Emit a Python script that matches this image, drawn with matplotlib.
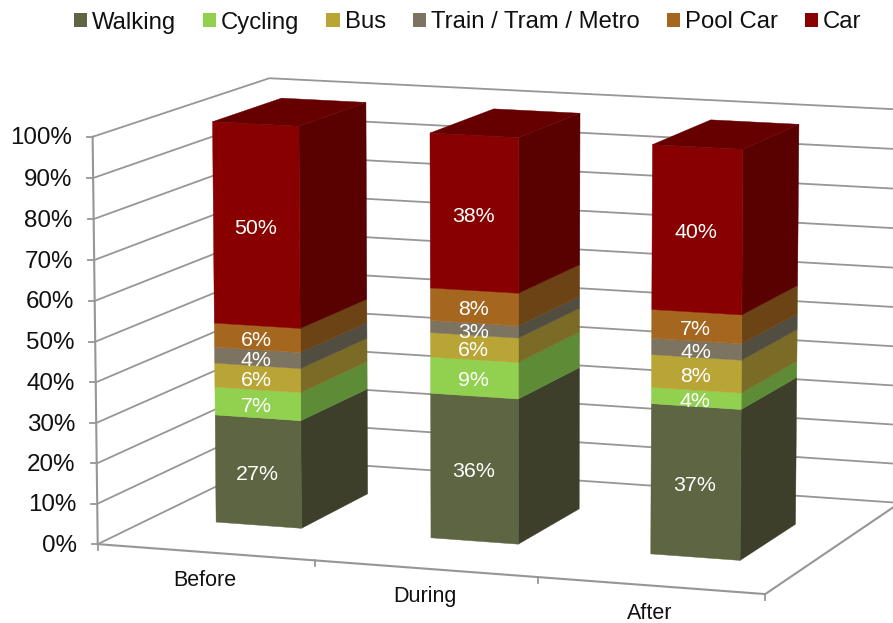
import numpy as np
import matplotlib
matplotlib.use("Agg")
import matplotlib.pyplot as plt
from matplotlib.patches import Patch

plt.rcParams["font.family"] = ["Liberation Sans", "DejaVu Sans"]

# ── DATA ──────────────────────────────────────────────────────────────────────

periods = ["Before", "During", "After"]
modes   = ["Walking", "Cycling", "Bus", "Train / Tram / Metro", "Pool Car", "Car"]

walking = [27, 36, 37]
cycling = [7, 9, 4]
bus     = [6, 6, 8]
train   = [4, 3, 4]
pool    = [6, 8, 7]
car     = [50, 38, 40]

y_ticks = [0, 10, 20, 30, 40, 50, 60, 70, 80, 90, 100]

# ── STYLE ─────────────────────────────────────────────────────────────────────

FRONT = ["#5D6543", "#92D050", "#B8A536", "#7C7360", "#A5671F", "#880000"]
SIDE  = ["#3D3F2B", "#5E8B35", "#7A6C26", "#514D40", "#6B4314", "#590000"]
TOP   = "#660000"
GRID  = "#969696"

BAR_W  = 0.4
DEPTH0 = 0.3
DEPTH1 = 0.7

# ── PROJECTION ────────────────────────────────────────────────────────────────

# box coordinates (category, depth, share of 100%) -> picture position
CALIB = [
    ((0, 0, 0), (97, 542)), ((3, 0, 0), (765, 594)), ((0, 0, 1), (92, 136.5)),
    ((0, 1, 1), (270, 77.5)), ((0, 1, 0), (272, 461)), ((3, 1, 0), (900, 504)),
    ((3, 1, 1), (900, 108)), ((1, 0, 0), (314, 559)),
    ((0.3, 0.3, 1), (212, 121)), ((0.7, 0.3, 1), (300, 126)),
    ((0.3, 0.7, 1), (283, 98)), ((0.3, 0.3, 0), (216, 521)),
    ((0.7, 0.3, 0), (301, 527)), ((1.3, 0.3, 0), (431, 537)),
    ((1.7, 0.3, 0), (519, 544)), ((1.3, 0.3, 1), (430, 135)),
    ((1.7, 0.3, 1), (518, 140)), ((1.7, 0.7, 1), (580, 112)),
    ((2.3, 0.3, 0), (651, 553)), ((2.7, 0.3, 0), (741, 560)),
    ((2.7, 0.7, 0), (796, 524)), ((2.3, 0.3, 1), (652, 144)),
    ((2.7, 0.3, 1), (744, 148)), ((2.7, 0.7, 1), (800, 123)),
    ((2.3, 0.7, 1), (712, 119)),
    # segment joins on the bar fronts, they sit a little lower than a straight fit
    ((0.3, 0.3, 0.27), (215, 416)), ((0.3, 0.3, 0.5), (214, 324)),
    ((2.3, 0.3, 0.37), (651.5, 406)), ((2.3, 0.3, 0.6), (652, 312)),
    ((1.3, 0.3, 0.36), (431, 395)), ((1.3, 0.3, 0.62), (430, 290)),
]


def fit_projection(pairs):
    rows, rhs = [], []
    for (u, v, w), (x, y) in pairs:
        rows.append([u, v, w, 1, 0, 0, 0, 0, -x*u, -x*v, -x*w])
        rows.append([0, 0, 0, 0, u, v, w, 1, -y*u, -y*v, -y*w])
        rhs += [x, y]
    sol = np.linalg.lstsq(np.array(rows, float), np.array(rhs, float), rcond=None)[0]
    return np.append(sol, 1).reshape(3, 4)


P = fit_projection(CALIB)


def project(u, v, w):
    x, y, h = P @ np.array([u, v, w, 1.0])
    return x / h, y / h


def face(*corners):
    return np.array([project(*c) for c in corners]).T

# ── PLOT ──────────────────────────────────────────────────────────────────────

fig = plt.figure(figsize=(8.93, 6.23), dpi=100)
ax  = fig.add_axes([0, 0, 1, 1])
ax.set_xlim(0, 893)
ax.set_ylim(623, 0)
ax.axis("off")

# walls
for t in y_ticks:
    w = t / 100
    xs, ys = face((0, 0, w), (0, 1, w), (3, 1, w))
    ax.plot(xs, ys, color=GRID, lw=1.3, zorder=1)
    x0, y0 = project(0, 0, w)
    ax.plot([x0 - 6, x0], [y0, y0], color=GRID, lw=1.3, zorder=1)
    ax.text(x0 - 21, y0 + 1.5, f"{t}%", ha="right", va="center",
            fontsize=17.4, color="#111111")

xs, ys = face((0, 0, 0), (0, 0, 1))
ax.plot(xs, ys, color=GRID, lw=1.5, zorder=1)
xs, ys = face((0, 0, 0), (3, 0, 0), (3, 1, 0))
ax.plot(xs, ys, color=GRID, lw=1.5, zorder=1)

for i in range(4):
    x0, y0 = project(i, 0, 0)
    ax.plot([x0, x0], [y0, y0 + 6], color=GRID, lw=1.3, zorder=1)

# bars
series = [walking, cycling, bus, train, pool, car]
for i, period in enumerate(periods):
    u0 = i + 0.5 - BAR_W / 2
    u1 = i + 0.5 + BAR_W / 2
    base = 0
    for s, values in enumerate(series):
        w0 = base / 100
        w1 = (base + values[i]) / 100
        base += values[i]

        xs, ys = face((u1, DEPTH0, w0), (u1, DEPTH1, w0), (u1, DEPTH1, w1), (u1, DEPTH0, w1))
        ax.fill(xs, ys, color=SIDE[s], lw=0.3, zorder=2)
        xs, ys = face((u0, DEPTH0, w0), (u1, DEPTH0, w0), (u1, DEPTH0, w1), (u0, DEPTH0, w1))
        ax.fill(xs, ys, color=FRONT[s], lw=0.3, zorder=2)

        lx, ly = project(i + 0.5, DEPTH0, (w0 + w1) / 2)
        ax.text(lx - 1, ly + 3, f"{values[i]}%", ha="center", va="center",
                fontsize=15.4, color="white", zorder=3)

    xs, ys = face((u0, DEPTH0, 1), (u1, DEPTH0, 1), (u1, DEPTH1, 1), (u0, DEPTH1, 1))
    ax.fill(xs, ys, color=TOP, lw=0.3, zorder=2)

    # category label sits under the front edge, left of the middle
    lx, ly = project(i + 0.5, 0, 0)
    ax.text(lx - 1, ly + 28, period, ha="center", va="center",
            fontsize=15.5, color="#111111")

handles = [Patch(facecolor=c, label=m) for c, m in zip(FRONT, modes)]
ax.legend(handles=handles, ncol=6, frameon=False, loc="center",
          bbox_to_anchor=(467.5, 22.5), bbox_transform=ax.transData,
          fontsize=17.2, handlelength=0.56, handleheight=0.56,
          handletextpad=0.2, columnspacing=1.13, borderpad=0, labelcolor="#111111")

plt.savefig("out.png", dpi=100)
